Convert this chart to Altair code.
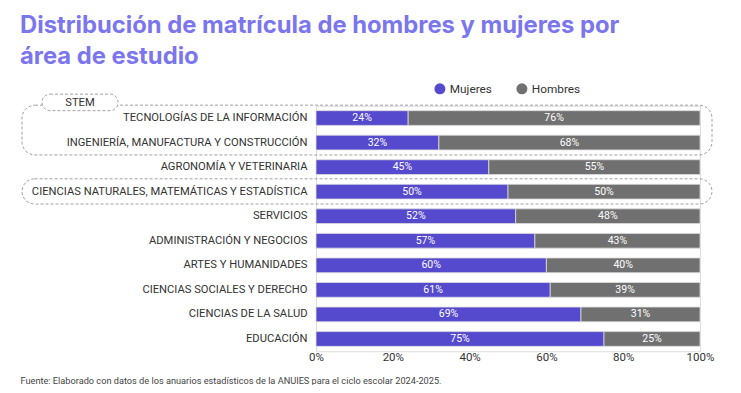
import altair as alt
import pandas as pd

categories = [
    "TECNOLOGÍAS DE LA INFORMACIÓN",
    "INGENIERÍA, MANUFACTURA Y CONSTRUCCIÓN",
    "AGRONOMÍA Y VETERINARIA",
    "CIENCIAS NATURALES, MATEMÁTICAS Y ESTADÍSTICA",
    "SERVICIOS",
    "ADMINISTRACIÓN Y NEGOCIOS",
    "ARTES Y HUMANIDADES",
    "CIENCIAS SOCIALES Y DERECHO",
    "CIENCIAS DE LA SALUD",
    "EDUCACIÓN",
]
mujeres = [24, 32, 45, 50, 52, 57, 60, 61, 69, 75]
hombres = [76, 68, 55, 50, 48, 43, 40, 39, 31, 25]
series = ["Mujeres", "Hombres"]
colors = ["#5549CE", "#707070"]
stem_groups = [
    {"start": categories[0], "end": categories[1], "tab": "STEM"},
    {"start": categories[3], "end": categories[3], "tab": ""},
]

rows = []
for c, m, h in zip(categories, mujeres, hombres):
    rows.append({"area": c, "sexo": series[0], "orden": 0, "frac": m / 100})
    rows.append({"area": c, "sexo": series[1], "orden": 1, "frac": h / 100})
df = pd.DataFrame(rows)
groups = pd.DataFrame(stem_groups)

FONT = "Roboto"

yscale = alt.Scale(domain=categories, paddingInner=0.4, paddingOuter=0.2)

base = alt.Chart(df).transform_stack(
    stack="frac", groupby=["area"], sort=[alt.SortField("orden")], as_=["x0", "x1"]
).transform_calculate(mid="(datum.x0 + datum.x1) / 2")

bars = base.mark_bar(stroke="#dddddd", strokeWidth=0.8).encode(
    y=alt.Y("area:N", scale=yscale, sort=categories,
            axis=alt.Axis(title=None, ticks=False, domain=False, labelPadding=9,
                          labelLimit=400, labelFontSize=11.2, labelColor="#333333",
                          labelFont=FONT)),
    x=alt.X("x0:Q", scale=alt.Scale(domain=[0, 1], nice=False),
            axis=alt.Axis(values=[0, 0.2, 0.4, 0.6, 0.8, 1.0], format=".0%",
                          grid=False, ticks=False, domain=False, labelFlush=False,
                          labelFontSize=11.5, labelColor="#333333", labelFont=FONT,
                          labelPadding=0,
                          title="Fuente: Elaborado con datos de los anuarios estadísticos de la ANUIES para el ciclo escolar 2024-2025.",
                          titleFont=FONT, titleFontSize=9.2, titleFontWeight="normal",
                          titleColor="#444444", titleAlign="left", titleAnchor="start",
                          titleX=-296, titleY=29, titleBaseline="middle")),
    x2="x1:Q",
    color=alt.Color("sexo:N", scale=alt.Scale(domain=series, range=colors),
                    legend=alt.Legend(title=None, orient="none", direction="horizontal",
                                      legendX=118, legendY=-23, symbolType="circle",
                                      symbolSize=121, symbolStrokeWidth=0,
                                      labelFont=FONT, labelFontSize=11.8,
                                      labelColor="#333333", columnPadding=24)),
)

labels = base.mark_text(color="white", fontSize=10.5, font=FONT).encode(
    y=alt.Y("area:N", scale=yscale, sort=categories),
    x=alt.X("mid:Q"),
    text=alt.Text("frac:Q", format=".0%"),
)

boxes = alt.Chart(groups).mark_rect(
    fill=None, stroke="#8a8a8a", strokeWidth=0.8, strokeDash=[3, 2],
    cornerRadius=13, yOffset=-5.5, y2Offset=5
).encode(
    y=alt.Y("start:N", scale=yscale, sort=categories, bandPosition=0),
    y2=alt.Y2("end:N", bandPosition=1),
    x=alt.value(-294),
    x2=alt.value(396),
)

tab = alt.Chart(groups).transform_filter("datum.tab != ''").mark_rect(
    fill="white", stroke="#8a8a8a", strokeWidth=0.8, strokeDash=[3, 2],
    cornerRadius=8, yOffset=-16.5, y2Offset=0
).encode(
    y=alt.Y("start:N", scale=yscale, sort=categories, bandPosition=0),
    y2=alt.Y2("start:N", bandPosition=0),
    x=alt.value(-274),
    x2=alt.value(-198),
)

tab_text = alt.Chart(groups).transform_filter("datum.tab != ''").mark_text(
    fontSize=11.2, font=FONT, color="#333333", yOffset=-8
).encode(
    y=alt.Y("start:N", scale=yscale, sort=categories, bandPosition=0),
    x=alt.value(-236),
    text="tab:N",
)

chart = alt.layer(boxes, tab, tab_text, bars, labels).properties(
    width=384,
    height=245.5,
    autosize=alt.AutoSizeParams(type="none"),
    padding={"left": 308, "top": 97.75, "right": 33, "bottom": 33.75},
    title=alt.TitleParams(
        text=["Distribución de matrícula de hombres y mujeres por", "área de estudio"],
        font="Inter", fontSize=23.8, fontWeight="bold", color="#7B75EE",
        anchor="start", frame="group", dx=-296, offset=14, lineHeight=31,
    ),
).configure_view(stroke=None).configure(background="white")

chart.save("out.html", embed_options={"renderer": "svg", "actions": False})
